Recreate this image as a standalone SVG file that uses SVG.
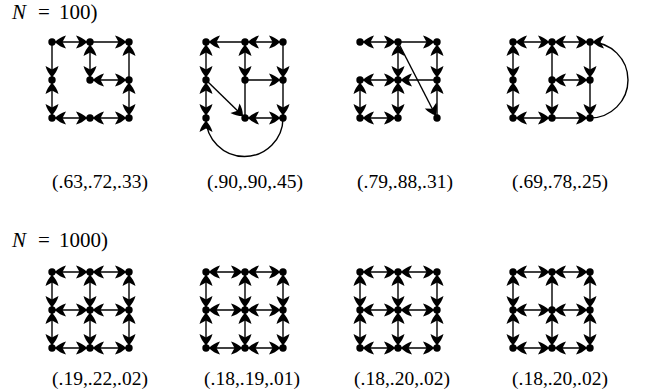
<svg xmlns="http://www.w3.org/2000/svg" width="646" height="392" viewBox="0 0 646 392">
<style>
.e{stroke:#000;stroke-width:1.4;fill:none}
.b{marker-start:url(#ah);marker-end:url(#ah)}
.o{marker-end:url(#ah)}
.n{fill:#000}
text{font-family:"Liberation Serif","Times New Roman",serif;font-size:21px;fill:#000}
.lab{text-anchor:middle;font-size:19.5px}
</style>
<defs>
<marker id="ah" viewBox="-16 -8 18 16" refX="0" refY="0" markerWidth="18" markerHeight="16" markerUnits="userSpaceOnUse" orient="auto-start-reverse" overflow="visible">
<path d="M-2.8,0 Q-8,-5 -14,-6.5 L-10.5,0 L-14,6.5 Q-8,5 -2.8,0 Z" fill="#000"/>
</marker>
</defs>
<rect width="646" height="392" fill="#fff"/>
<text x="12" y="19"><tspan font-style="italic">N</tspan><tspan x="38">=</tspan><tspan x="59">100)</tspan></text>
<text x="12" y="247"><tspan font-style="italic">N</tspan><tspan x="38">=</tspan><tspan x="59">1000)</tspan></text>

<g id="connectors">
<!-- graph 1 -->
<line class="e b" x1="52" y1="42" x2="90" y2="42"/>
<line class="e o" x1="90" y1="42" x2="129" y2="42"/>
<line class="e b" x1="90" y1="42" x2="90" y2="80"/>
<line class="e b" x1="90" y1="80" x2="129" y2="80"/>
<line class="e o" x1="129" y1="80" x2="129" y2="42"/>
<line class="e b" x1="129" y1="80" x2="129" y2="118"/>
<line class="e o" x1="52" y1="42" x2="52" y2="80"/>
<line class="e b" x1="52" y1="80" x2="52" y2="118"/>
<line class="e b" x1="52" y1="118" x2="90" y2="118"/>
<line class="e b" x1="90" y1="118" x2="129" y2="118"/>
<!-- graph 2 -->
<line class="e o" x1="245" y1="42" x2="206" y2="42"/>
<line class="e b" x1="245" y1="42" x2="283" y2="42"/>
<line class="e b" x1="206" y1="42" x2="206" y2="80"/>
<line class="e b" x1="206" y1="80" x2="206" y2="118"/>
<line class="e b" x1="245" y1="42" x2="245" y2="80"/>
<line class="e" x1="245" y1="80" x2="245" y2="118"/>
<line class="e o" x1="245" y1="80" x2="283" y2="80"/>
<line class="e o" x1="283" y1="42" x2="283" y2="80"/>
<line class="e o" x1="283" y1="80" x2="283" y2="118"/>
<line class="e b" x1="245" y1="118" x2="283" y2="118"/>
<line class="e o" x1="206" y1="80" x2="245" y2="118"/>
<path class="e o" d="M283,118 A38.5,38.5 0 0 1 206,118"/>
<!-- graph 3 -->
<line class="e b" x1="360" y1="42" x2="398" y2="42"/>
<line class="e o" x1="398" y1="42" x2="437" y2="42"/>
<line class="e b" x1="398" y1="80" x2="398" y2="42"/>
<line class="e b" x1="398" y1="80" x2="398" y2="118"/>
<line class="e b" x1="360" y1="80" x2="398" y2="80"/>
<line class="e o" x1="437" y1="80" x2="398" y2="80"/>
<line class="e b" x1="437" y1="42" x2="437" y2="80"/>
<line class="e o" x1="437" y1="118" x2="437" y2="80"/>
<line class="e b" x1="360" y1="80" x2="360" y2="118"/>
<line class="e b" x1="360" y1="118" x2="398" y2="118"/>
<line class="e o" x1="398" y1="42" x2="437" y2="118"/>
<!-- graph 4 -->
<line class="e b" x1="513" y1="42" x2="552" y2="42"/>
<line class="e b" x1="552" y1="42" x2="590" y2="42"/>
<line class="e b" x1="513" y1="42" x2="513" y2="80"/>
<line class="e b" x1="513" y1="80" x2="513" y2="118"/>
<line class="e o" x1="552" y1="80" x2="552" y2="42"/>
<line class="e b" x1="552" y1="80" x2="552" y2="118"/>
<line class="e b" x1="552" y1="80" x2="590" y2="80"/>
<line class="e o" x1="590" y1="42" x2="590" y2="80"/>
<line class="e o" x1="590" y1="80" x2="590" y2="118"/>
<line class="e b" x1="513" y1="118" x2="552" y2="118"/>
<line class="e o" x1="552" y1="118" x2="590" y2="118"/>
<path class="e o" d="M590,118 A38,38 0 0 0 590,42"/>
<!-- graph 5 -->
<line class="e b" x1="52" y1="272" x2="90" y2="272"/>
<line class="e b" x1="90" y1="272" x2="129" y2="272"/>
<line class="e b" x1="52" y1="310" x2="90" y2="310"/>
<line class="e b" x1="90" y1="310" x2="129" y2="310"/>
<line class="e b" x1="52" y1="348" x2="90" y2="348"/>
<line class="e b" x1="90" y1="348" x2="129" y2="348"/>
<line class="e b" x1="52" y1="272" x2="52" y2="310"/>
<line class="e b" x1="52" y1="310" x2="52" y2="348"/>
<line class="e b" x1="90" y1="272" x2="90" y2="310"/>
<line class="e b" x1="90" y1="310" x2="90" y2="348"/>
<line class="e b" x1="129" y1="272" x2="129" y2="310"/>
<line class="e b" x1="129" y1="310" x2="129" y2="348"/>
<!-- graph 6 -->
<line class="e b" x1="206" y1="272" x2="245" y2="272"/>
<line class="e b" x1="245" y1="272" x2="283" y2="272"/>
<line class="e b" x1="206" y1="310" x2="245" y2="310"/>
<line class="e b" x1="245" y1="310" x2="283" y2="310"/>
<line class="e b" x1="206" y1="348" x2="245" y2="348"/>
<line class="e b" x1="245" y1="348" x2="283" y2="348"/>
<line class="e b" x1="206" y1="272" x2="206" y2="310"/>
<line class="e b" x1="206" y1="310" x2="206" y2="348"/>
<line class="e b" x1="245" y1="272" x2="245" y2="310"/>
<line class="e b" x1="245" y1="310" x2="245" y2="348"/>
<line class="e b" x1="283" y1="272" x2="283" y2="310"/>
<line class="e b" x1="283" y1="310" x2="283" y2="348"/>
<!-- graph 7 -->
<line class="e b" x1="360" y1="272" x2="398" y2="272"/>
<line class="e b" x1="398" y1="272" x2="437" y2="272"/>
<line class="e b" x1="360" y1="310" x2="398" y2="310"/>
<line class="e b" x1="398" y1="310" x2="437" y2="310"/>
<line class="e b" x1="360" y1="348" x2="398" y2="348"/>
<line class="e b" x1="398" y1="348" x2="437" y2="348"/>
<line class="e b" x1="360" y1="272" x2="360" y2="310"/>
<line class="e b" x1="360" y1="310" x2="360" y2="348"/>
<line class="e b" x1="398" y1="272" x2="398" y2="310"/>
<line class="e b" x1="398" y1="310" x2="398" y2="348"/>
<line class="e b" x1="437" y1="272" x2="437" y2="310"/>
<line class="e b" x1="437" y1="310" x2="437" y2="348"/>
<!-- graph 8 -->
<line class="e b" x1="513" y1="272" x2="552" y2="272"/>
<line class="e b" x1="552" y1="272" x2="590" y2="272"/>
<line class="e b" x1="513" y1="310" x2="552" y2="310"/>
<line class="e b" x1="552" y1="310" x2="590" y2="310"/>
<line class="e b" x1="513" y1="348" x2="552" y2="348"/>
<line class="e b" x1="552" y1="348" x2="590" y2="348"/>
<line class="e b" x1="513" y1="272" x2="513" y2="310"/>
<line class="e b" x1="513" y1="310" x2="513" y2="348"/>
<line class="e o" x1="552" y1="310" x2="552" y2="272"/>
<line class="e b" x1="552" y1="310" x2="552" y2="348"/>
<line class="e b" x1="590" y1="272" x2="590" y2="310"/>
<line class="e b" x1="590" y1="310" x2="590" y2="348"/>
</g>

<g id="nodes">
<g id="g1-n1"><circle class="n" cx="52" cy="42" r="3.7"/></g>
<g id="g1-n2"><circle class="n" cx="90" cy="42" r="3.7"/></g>
<g id="g1-n3"><circle class="n" cx="129" cy="42" r="3.7"/></g>
<g id="g1-n4"><circle class="n" cx="52" cy="80" r="3.7"/></g>
<g id="g1-n5"><circle class="n" cx="90" cy="80" r="3.7"/></g>
<g id="g1-n6"><circle class="n" cx="129" cy="80" r="3.7"/></g>
<g id="g1-n7"><circle class="n" cx="52" cy="118" r="3.7"/></g>
<g id="g1-n8"><circle class="n" cx="90" cy="118" r="3.7"/></g>
<g id="g1-n9"><circle class="n" cx="129" cy="118" r="3.7"/></g>

<g id="g2-n1"><circle class="n" cx="206" cy="42" r="3.7"/></g>
<g id="g2-n2"><circle class="n" cx="245" cy="42" r="3.7"/></g>
<g id="g2-n3"><circle class="n" cx="283" cy="42" r="3.7"/></g>
<g id="g2-n4"><circle class="n" cx="206" cy="80" r="3.7"/></g>
<g id="g2-n5"><circle class="n" cx="245" cy="80" r="3.7"/></g>
<g id="g2-n6"><circle class="n" cx="283" cy="80" r="3.7"/></g>
<g id="g2-n7"><circle class="n" cx="206" cy="118" r="3.7"/></g>
<g id="g2-n8"><circle class="n" cx="245" cy="118" r="3.7"/></g>
<g id="g2-n9"><circle class="n" cx="283" cy="118" r="3.7"/></g>

<g id="g3-n1"><circle class="n" cx="360" cy="42" r="3.7"/></g>
<g id="g3-n2"><circle class="n" cx="398" cy="42" r="3.7"/></g>
<g id="g3-n3"><circle class="n" cx="437" cy="42" r="3.7"/></g>
<g id="g3-n4"><circle class="n" cx="360" cy="80" r="3.7"/></g>
<g id="g3-n5"><circle class="n" cx="398" cy="80" r="3.7"/></g>
<g id="g3-n6"><circle class="n" cx="437" cy="80" r="3.7"/></g>
<g id="g3-n7"><circle class="n" cx="360" cy="118" r="3.7"/></g>
<g id="g3-n8"><circle class="n" cx="398" cy="118" r="3.7"/></g>
<g id="g3-n9"><circle class="n" cx="437" cy="118" r="3.7"/></g>

<g id="g4-n1"><circle class="n" cx="513" cy="42" r="3.7"/></g>
<g id="g4-n2"><circle class="n" cx="552" cy="42" r="3.7"/></g>
<g id="g4-n3"><circle class="n" cx="590" cy="42" r="3.7"/></g>
<g id="g4-n4"><circle class="n" cx="513" cy="80" r="3.7"/></g>
<g id="g4-n5"><circle class="n" cx="552" cy="80" r="3.7"/></g>
<g id="g4-n6"><circle class="n" cx="590" cy="80" r="3.7"/></g>
<g id="g4-n7"><circle class="n" cx="513" cy="118" r="3.7"/></g>
<g id="g4-n8"><circle class="n" cx="552" cy="118" r="3.7"/></g>
<g id="g4-n9"><circle class="n" cx="590" cy="118" r="3.7"/></g>

<g id="g5-n1"><circle class="n" cx="52" cy="272" r="3.7"/></g>
<g id="g5-n2"><circle class="n" cx="90" cy="272" r="3.7"/></g>
<g id="g5-n3"><circle class="n" cx="129" cy="272" r="3.7"/></g>
<g id="g5-n4"><circle class="n" cx="52" cy="310" r="3.7"/></g>
<g id="g5-n5"><circle class="n" cx="90" cy="310" r="3.7"/></g>
<g id="g5-n6"><circle class="n" cx="129" cy="310" r="3.7"/></g>
<g id="g5-n7"><circle class="n" cx="52" cy="348" r="3.7"/></g>
<g id="g5-n8"><circle class="n" cx="90" cy="348" r="3.7"/></g>
<g id="g5-n9"><circle class="n" cx="129" cy="348" r="3.7"/></g>

<g id="g6-n1"><circle class="n" cx="206" cy="272" r="3.7"/></g>
<g id="g6-n2"><circle class="n" cx="245" cy="272" r="3.7"/></g>
<g id="g6-n3"><circle class="n" cx="283" cy="272" r="3.7"/></g>
<g id="g6-n4"><circle class="n" cx="206" cy="310" r="3.7"/></g>
<g id="g6-n5"><circle class="n" cx="245" cy="310" r="3.7"/></g>
<g id="g6-n6"><circle class="n" cx="283" cy="310" r="3.7"/></g>
<g id="g6-n7"><circle class="n" cx="206" cy="348" r="3.7"/></g>
<g id="g6-n8"><circle class="n" cx="245" cy="348" r="3.7"/></g>
<g id="g6-n9"><circle class="n" cx="283" cy="348" r="3.7"/></g>

<g id="g7-n1"><circle class="n" cx="360" cy="272" r="3.7"/></g>
<g id="g7-n2"><circle class="n" cx="398" cy="272" r="3.7"/></g>
<g id="g7-n3"><circle class="n" cx="437" cy="272" r="3.7"/></g>
<g id="g7-n4"><circle class="n" cx="360" cy="310" r="3.7"/></g>
<g id="g7-n5"><circle class="n" cx="398" cy="310" r="3.7"/></g>
<g id="g7-n6"><circle class="n" cx="437" cy="310" r="3.7"/></g>
<g id="g7-n7"><circle class="n" cx="360" cy="348" r="3.7"/></g>
<g id="g7-n8"><circle class="n" cx="398" cy="348" r="3.7"/></g>
<g id="g7-n9"><circle class="n" cx="437" cy="348" r="3.7"/></g>

<g id="g8-n1"><circle class="n" cx="513" cy="272" r="3.7"/></g>
<g id="g8-n2"><circle class="n" cx="552" cy="272" r="3.7"/></g>
<g id="g8-n3"><circle class="n" cx="590" cy="272" r="3.7"/></g>
<g id="g8-n4"><circle class="n" cx="513" cy="310" r="3.7"/></g>
<g id="g8-n5"><circle class="n" cx="552" cy="310" r="3.7"/></g>
<g id="g8-n6"><circle class="n" cx="590" cy="310" r="3.7"/></g>
<g id="g8-n7"><circle class="n" cx="513" cy="348" r="3.7"/></g>
<g id="g8-n8"><circle class="n" cx="552" cy="348" r="3.7"/></g>
<g id="g8-n9"><circle class="n" cx="590" cy="348" r="3.7"/></g>
</g>

<g id="labels">
<text class="lab" x="100" y="188">(.63,.72,.33)</text>
<text class="lab" x="255" y="188">(.90,.90,.45)</text>
<text class="lab" x="405" y="188">(.79,.88,.31)</text>
<text class="lab" x="560" y="188">(.69,.78,.25)</text>
<text class="lab" x="100" y="385">(.19,.22,.02)</text>
<text class="lab" x="252" y="385">(.18,.19,.01)</text>
<text class="lab" x="402" y="385">(.18,.20,.02)</text>
<text class="lab" x="560" y="385">(.18,.20,.02)</text>
</g>
</svg>
